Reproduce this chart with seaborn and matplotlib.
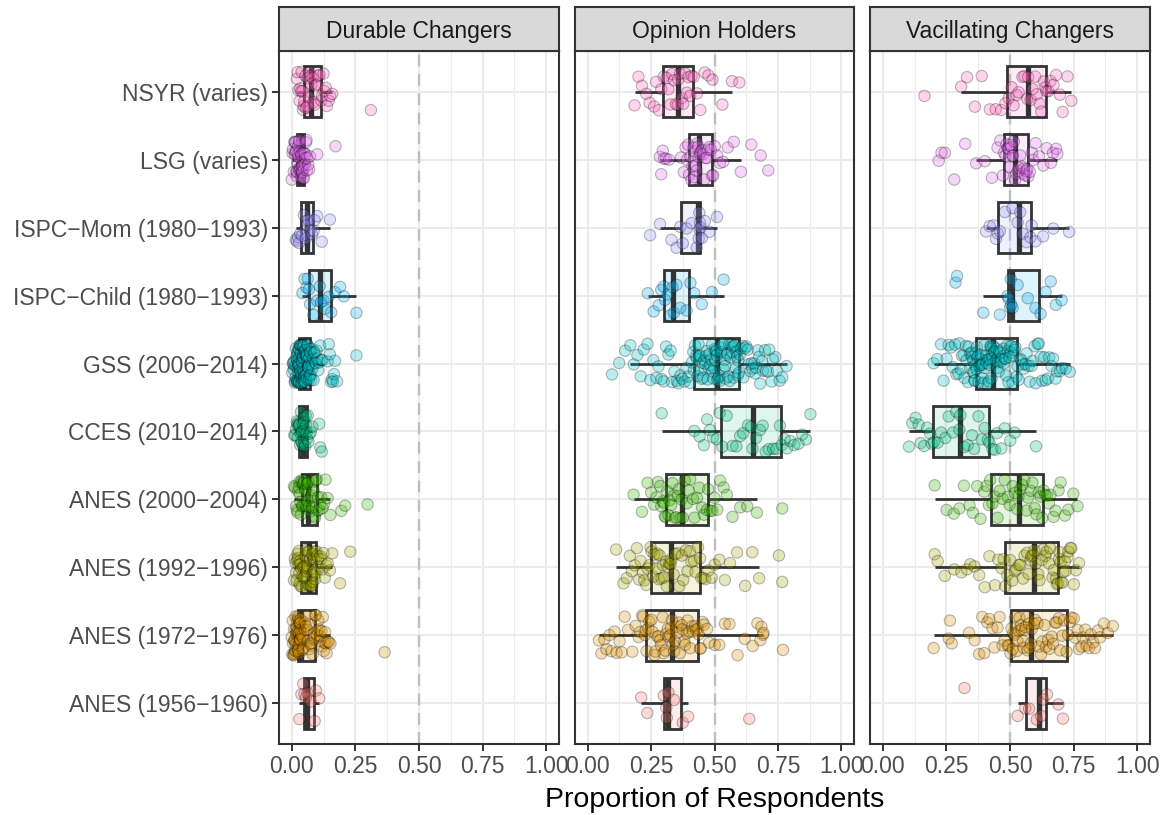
import numpy as np
import pandas as pd
import matplotlib
matplotlib.use("Agg")
import matplotlib.pyplot as plt
from matplotlib.colors import to_rgba
from matplotlib.ticker import MultipleLocator
import seaborn as sns

# Surveys, listed top to bottom
surveys = [
    "NSYR (varies)",
    "LSG (varies)",
    "ISPC\u2212Mom (1980\u22121993)",
    "ISPC\u2212Child (1980\u22121993)",
    "GSS (2006\u22122014)",
    "CCES (2010\u22122014)",
    "ANES (2000\u22122004)",
    "ANES (1992\u22121996)",
    "ANES (1972\u22121976)",
    "ANES (1956\u22121960)",
]
survey_colors = ["#FF62BC", "#E76BF3", "#9590FF", "#00B0F6", "#00BFC4",
                 "#00BF7D", "#39B600", "#A3A500", "#D89000", "#F8766D"]
facets = ["Durable Changers", "Opinion Holders", "Vacillating Changers"]
x_ticks = [0.0, 0.25, 0.5, 0.75, 1.0]
x_tick_labels = ["0.00", "0.25", "0.50", "0.75", "1.00"]

# ---- Durable changers: share of respondents per item ----
durable_nsyr = [0.020, 0.023, 0.026, 0.031, 0.033, 0.037, 0.039, 0.042, 0.044, 0.047, 0.049, 0.054,
                0.056, 0.061, 0.063, 0.067, 0.071, 0.074, 0.077, 0.082, 0.086, 0.090, 0.094, 0.101,
                0.104, 0.109, 0.116, 0.119, 0.125, 0.128, 0.134, 0.138, 0.145, 0.151, 0.159, 0.311]
durable_lsg = [0.000, 0.003, 0.005, 0.008, 0.010, 0.012, 0.013, 0.015, 0.016, 0.017, 0.018, 0.020,
               0.021, 0.022, 0.023, 0.024, 0.026, 0.027, 0.028, 0.029, 0.030, 0.031, 0.032, 0.034,
               0.035, 0.036, 0.037, 0.038, 0.039, 0.040, 0.041, 0.042, 0.043, 0.044, 0.045, 0.047,
               0.048, 0.050, 0.051, 0.053, 0.054, 0.056, 0.058, 0.060, 0.062, 0.065, 0.068, 0.072,
               0.100, 0.172]
durable_ispc_mom = [0.016, 0.020, 0.025, 0.029, 0.033, 0.040, 0.048, 0.055, 0.058, 0.060, 0.066,
                    0.072, 0.080, 0.086, 0.090, 0.100, 0.118, 0.150]
durable_ispc_child = [0.042, 0.050, 0.058, 0.063, 0.068, 0.072, 0.085, 0.100, 0.110, 0.116, 0.125,
                      0.130, 0.145, 0.155, 0.170, 0.190, 0.205, 0.254]
durable_gss = [0.002, 0.004, 0.006, 0.008, 0.009, 0.011, 0.012, 0.013, 0.015, 0.016, 0.017, 0.018,
               0.019, 0.020, 0.021, 0.021, 0.022, 0.023, 0.023, 0.024, 0.025, 0.025, 0.026, 0.026,
               0.027, 0.027, 0.028, 0.028, 0.029, 0.029, 0.030, 0.031, 0.031, 0.032, 0.033, 0.033,
               0.034, 0.035, 0.035, 0.036, 0.037, 0.037, 0.038, 0.039, 0.039, 0.040, 0.041, 0.041,
               0.042, 0.042, 0.043, 0.044, 0.044, 0.045, 0.045, 0.046, 0.046, 0.047, 0.047, 0.048,
               0.049, 0.050, 0.050, 0.051, 0.052, 0.053, 0.053, 0.054, 0.055, 0.056, 0.056, 0.057,
               0.058, 0.059, 0.060, 0.060, 0.061, 0.062, 0.063, 0.063, 0.064, 0.065, 0.066, 0.066,
               0.067, 0.068, 0.069, 0.069, 0.070, 0.071, 0.072, 0.074, 0.075, 0.077, 0.079, 0.080,
               0.082, 0.084, 0.086, 0.088, 0.090, 0.092, 0.095, 0.098, 0.101, 0.104, 0.108, 0.112,
               0.117, 0.121, 0.141, 0.146, 0.150, 0.155, 0.158, 0.162, 0.166, 0.170, 0.178, 0.254]
durable_cces = [0.010, 0.014, 0.017, 0.020, 0.022, 0.024, 0.026, 0.028, 0.029, 0.031, 0.033, 0.035,
                0.036, 0.038, 0.039, 0.040, 0.042, 0.043, 0.045, 0.047, 0.049, 0.051, 0.053, 0.055,
                0.057, 0.058, 0.060, 0.063, 0.066, 0.070, 0.075, 0.081, 0.108, 0.112, 0.118]
durable_anes2000 = [0.009, 0.013, 0.017, 0.020, 0.023, 0.026, 0.028, 0.030, 0.032, 0.034, 0.036,
                    0.038, 0.039, 0.041, 0.043, 0.045, 0.047, 0.049, 0.051, 0.053, 0.055, 0.057,
                    0.059, 0.061, 0.063, 0.066, 0.069, 0.072, 0.074, 0.077, 0.080, 0.083, 0.086,
                    0.089, 0.092, 0.095, 0.098, 0.101, 0.104, 0.108, 0.112, 0.116, 0.121, 0.127,
                    0.133, 0.141, 0.152, 0.195, 0.210, 0.298]
durable_anes1992 = [0.009, 0.012, 0.015, 0.017, 0.019, 0.022, 0.023, 0.025, 0.027, 0.028, 0.030,
                    0.031, 0.032, 0.034, 0.035, 0.037, 0.040, 0.042, 0.045, 0.047, 0.050, 0.052,
                    0.054, 0.056, 0.058, 0.060, 0.062, 0.064, 0.066, 0.068, 0.069, 0.071, 0.073,
                    0.074, 0.076, 0.078, 0.080, 0.081, 0.083, 0.085, 0.087, 0.089, 0.090, 0.092,
                    0.094, 0.097, 0.100, 0.104, 0.108, 0.112, 0.116, 0.120, 0.125, 0.130, 0.136,
                    0.142, 0.150, 0.159, 0.190, 0.230]
durable_anes1972 = [0.000, 0.002, 0.004, 0.005, 0.007, 0.008, 0.009, 0.010, 0.011, 0.012, 0.013,
                    0.014, 0.015, 0.016, 0.017, 0.018, 0.019, 0.020, 0.021, 0.022, 0.023, 0.024,
                    0.024, 0.025, 0.026, 0.026, 0.027, 0.028, 0.028, 0.029, 0.030, 0.030, 0.031,
                    0.032, 0.032, 0.033, 0.033, 0.034, 0.035, 0.035, 0.037, 0.039, 0.042, 0.044,
                    0.047, 0.051, 0.052, 0.056, 0.058, 0.061, 0.064, 0.068, 0.070, 0.073, 0.077,
                    0.079, 0.082, 0.086, 0.088, 0.090, 0.092, 0.095, 0.099, 0.101, 0.104, 0.108,
                    0.110, 0.113, 0.117, 0.119, 0.122, 0.126, 0.128, 0.131, 0.135, 0.137, 0.141,
                    0.146, 0.152, 0.365]
durable_anes1956 = [0.030, 0.038, 0.045, 0.050, 0.056, 0.062, 0.075, 0.090, 0.095, 0.108]

# ---- Opinion holders ----
opinion_nsyr = [0.185, 0.200, 0.214, 0.231, 0.244, 0.262, 0.270, 0.281, 0.290, 0.300, 0.311, 0.318,
                0.326, 0.333, 0.341, 0.348, 0.355, 0.357, 0.364, 0.371, 0.377, 0.384, 0.391, 0.397,
                0.404, 0.410, 0.418, 0.431, 0.444, 0.461, 0.476, 0.492, 0.531, 0.569, 0.598]
opinion_lsg = [0.285, 0.290, 0.296, 0.301, 0.309, 0.321, 0.368, 0.379, 0.386, 0.391, 0.396, 0.400,
               0.405, 0.409, 0.413, 0.417, 0.420, 0.423, 0.426, 0.429, 0.432, 0.435, 0.438, 0.442,
               0.446, 0.451, 0.455, 0.460, 0.464, 0.470, 0.475, 0.480, 0.486, 0.490, 0.495, 0.501,
               0.510, 0.521, 0.534, 0.552, 0.576, 0.604, 0.645, 0.682, 0.712]
opinion_ispc_mom = [0.246, 0.285, 0.330, 0.350, 0.365, 0.375, 0.390, 0.410, 0.430, 0.438, 0.440,
                    0.441, 0.443, 0.445, 0.450, 0.462, 0.480, 0.510]
opinion_ispc_child = [0.237, 0.260, 0.280, 0.290, 0.300, 0.305, 0.315, 0.325, 0.335, 0.340, 0.350,
                      0.365, 0.390, 0.405, 0.420, 0.450, 0.490, 0.536]
opinion_gss = [0.096, 0.124, 0.148, 0.168, 0.182, 0.196, 0.209, 0.221, 0.236, 0.247, 0.259, 0.271,
               0.279, 0.291, 0.300, 0.309, 0.318, 0.327, 0.333, 0.342, 0.351, 0.357, 0.366, 0.373,
               0.382, 0.389, 0.397, 0.404, 0.411, 0.416, 0.419, 0.423, 0.427, 0.430, 0.433, 0.437,
               0.440, 0.443, 0.447, 0.450, 0.452, 0.456, 0.460, 0.463, 0.466, 0.469, 0.473, 0.477,
               0.480, 0.483, 0.486, 0.490, 0.492, 0.496, 0.499, 0.501, 0.504, 0.506, 0.508, 0.509,
               0.511, 0.515, 0.518, 0.520, 0.524, 0.527, 0.531, 0.533, 0.536, 0.540, 0.542, 0.545,
               0.549, 0.551, 0.554, 0.558, 0.560, 0.563, 0.567, 0.569, 0.572, 0.576, 0.578, 0.581,
               0.585, 0.587, 0.589, 0.592, 0.594, 0.596, 0.600, 0.604, 0.611, 0.614, 0.621, 0.625,
               0.631, 0.634, 0.641, 0.646, 0.649, 0.656, 0.661, 0.664, 0.671, 0.676, 0.680, 0.687,
               0.691, 0.699, 0.703, 0.711, 0.716, 0.725, 0.730, 0.740, 0.746, 0.757, 0.767, 0.784]
opinion_cces = [0.292, 0.420, 0.441, 0.458, 0.471, 0.482, 0.494, 0.509, 0.520, 0.531, 0.548, 0.571,
                0.586, 0.601, 0.613, 0.632, 0.644, 0.650, 0.664, 0.679, 0.690, 0.702, 0.714, 0.731,
                0.744, 0.758, 0.765, 0.776, 0.786, 0.799, 0.814, 0.831, 0.846, 0.861, 0.878]
opinion_anes2000 = [0.181, 0.214, 0.236, 0.250, 0.262, 0.271, 0.277, 0.286, 0.290, 0.296, 0.300,
                    0.304, 0.307, 0.313, 0.318, 0.322, 0.329, 0.334, 0.340, 0.344, 0.350, 0.356,
                    0.360, 0.366, 0.370, 0.375, 0.383, 0.391, 0.398, 0.404, 0.415, 0.421, 0.431,
                    0.440, 0.451, 0.459, 0.470, 0.475, 0.483, 0.491, 0.500, 0.511, 0.522, 0.536,
                    0.549, 0.571, 0.601, 0.629, 0.667, 0.767]
opinion_anes1992 = [0.112, 0.141, 0.154, 0.166, 0.174, 0.186, 0.194, 0.203, 0.209, 0.218, 0.223,
                    0.231, 0.236, 0.243, 0.248, 0.252, 0.259, 0.263, 0.271, 0.275, 0.281, 0.284,
                    0.291, 0.296, 0.301, 0.309, 0.312, 0.319, 0.322, 0.327, 0.330, 0.339, 0.345,
                    0.355, 0.361, 0.371, 0.377, 0.387, 0.393, 0.403, 0.409, 0.419, 0.425, 0.435,
                    0.443, 0.448, 0.456, 0.464, 0.476, 0.489, 0.501, 0.519, 0.541, 0.561, 0.589,
                    0.621, 0.649, 0.676, 0.754, 0.767]
opinion_anes1972 = [0.044, 0.054, 0.066, 0.074, 0.086, 0.094, 0.106, 0.114, 0.126, 0.134, 0.146,
                    0.159, 0.176, 0.189, 0.201, 0.207, 0.215, 0.219, 0.226, 0.229, 0.232, 0.239,
                    0.243, 0.251, 0.255, 0.263, 0.267, 0.275, 0.279, 0.286, 0.289, 0.296, 0.299,
                    0.306, 0.309, 0.316, 0.319, 0.326, 0.328, 0.332, 0.335, 0.341, 0.344, 0.351,
                    0.354, 0.361, 0.364, 0.371, 0.374, 0.381, 0.384, 0.391, 0.394, 0.401, 0.404,
                    0.411, 0.415, 0.423, 0.427, 0.434, 0.438, 0.443, 0.446, 0.453, 0.459, 0.471,
                    0.479, 0.501, 0.519, 0.541, 0.559, 0.591, 0.619, 0.651, 0.669, 0.681, 0.685,
                    0.691, 0.693, 0.770]
opinion_anes1956 = [0.211, 0.235, 0.300, 0.310, 0.312, 0.318, 0.340, 0.375, 0.396, 0.637]

# ---- Vacillating changers ----
vac_nsyr = [0.164, 0.308, 0.331, 0.362, 0.389, 0.421, 0.444, 0.466, 0.482, 0.495, 0.506, 0.514,
            0.526, 0.534, 0.549, 0.557, 0.568, 0.571, 0.581, 0.589, 0.599, 0.605, 0.616, 0.623,
            0.633, 0.639, 0.643, 0.651, 0.659, 0.671, 0.681, 0.696, 0.707, 0.726, 0.741]
vac_lsg = [0.220, 0.231, 0.244, 0.281, 0.324, 0.367, 0.401, 0.429, 0.451, 0.462, 0.472, 0.477,
           0.482, 0.486, 0.491, 0.494, 0.498, 0.502, 0.506, 0.509, 0.512, 0.515, 0.520, 0.525,
           0.531, 0.535, 0.540, 0.546, 0.550, 0.555, 0.560, 0.564, 0.568, 0.572, 0.578, 0.586,
           0.591, 0.601, 0.614, 0.631, 0.644, 0.661, 0.669, 0.681, 0.686]
vac_ispc_mom = [0.406, 0.420, 0.435, 0.445, 0.452, 0.460, 0.480, 0.510, 0.530, 0.540, 0.550, 0.565,
                0.580, 0.585, 0.600, 0.630, 0.670, 0.732]
vac_ispc_child = [0.286, 0.292, 0.395, 0.460, 0.490, 0.495, 0.500, 0.503, 0.505, 0.510, 0.530,
                  0.570, 0.600, 0.620, 0.640, 0.660, 0.680, 0.703]
vac_gss = [0.200, 0.214, 0.229, 0.239, 0.251, 0.259, 0.269, 0.275, 0.284, 0.289, 0.297, 0.301,
           0.308, 0.311, 0.318, 0.321, 0.327, 0.329, 0.335, 0.337, 0.343, 0.344, 0.349, 0.350,
           0.355, 0.356, 0.359, 0.360, 0.362, 0.363, 0.365, 0.368, 0.370, 0.372, 0.375, 0.377,
           0.380, 0.383, 0.385, 0.386, 0.390, 0.392, 0.394, 0.397, 0.400, 0.401, 0.405, 0.407,
           0.409, 0.412, 0.414, 0.417, 0.419, 0.420, 0.423, 0.425, 0.427, 0.428, 0.430, 0.432,
           0.434, 0.438, 0.440, 0.444, 0.447, 0.449, 0.453, 0.456, 0.458, 0.462, 0.465, 0.467,
           0.471, 0.474, 0.476, 0.480, 0.483, 0.485, 0.489, 0.492, 0.494, 0.498, 0.501, 0.503,
           0.507, 0.510, 0.513, 0.518, 0.521, 0.526, 0.530, 0.534, 0.541, 0.544, 0.551, 0.554,
           0.561, 0.565, 0.573, 0.577, 0.585, 0.589, 0.597, 0.601, 0.609, 0.613, 0.621, 0.626,
           0.635, 0.640, 0.649, 0.654, 0.663, 0.669, 0.679, 0.685, 0.696, 0.704, 0.719, 0.735]
vac_cces = [0.103, 0.116, 0.129, 0.141, 0.149, 0.163, 0.174, 0.186, 0.193, 0.201, 0.216, 0.229,
            0.246, 0.259, 0.276, 0.289, 0.301, 0.305, 0.321, 0.334, 0.351, 0.359, 0.376, 0.389,
            0.401, 0.413, 0.419, 0.431, 0.441, 0.449, 0.466, 0.479, 0.501, 0.519, 0.602]
vac_anes2000 = [0.204, 0.251, 0.279, 0.301, 0.319, 0.341, 0.354, 0.371, 0.384, 0.399, 0.408, 0.417,
                0.422, 0.431, 0.439, 0.451, 0.459, 0.471, 0.479, 0.491, 0.499, 0.511, 0.519, 0.528,
                0.534, 0.540, 0.549, 0.556, 0.565, 0.571, 0.581, 0.588, 0.597, 0.604, 0.613, 0.620,
                0.627, 0.632, 0.639, 0.645, 0.653, 0.659, 0.671, 0.679, 0.691, 0.699, 0.716, 0.729,
                0.749, 0.765]
vac_anes1992 = [0.204, 0.216, 0.244, 0.281, 0.309, 0.331, 0.344, 0.361, 0.379, 0.401, 0.419, 0.441,
                0.454, 0.466, 0.475, 0.481, 0.489, 0.501, 0.509, 0.519, 0.525, 0.535, 0.541, 0.551,
                0.557, 0.567, 0.573, 0.581, 0.584, 0.590, 0.596, 0.601, 0.611, 0.616, 0.625, 0.630,
                0.639, 0.644, 0.653, 0.658, 0.667, 0.672, 0.681, 0.684, 0.689, 0.693, 0.694, 0.699,
                0.701, 0.707, 0.709, 0.716, 0.719, 0.726, 0.729, 0.737, 0.741, 0.751, 0.759, 0.771]
vac_anes1972 = [0.200, 0.259, 0.264, 0.271, 0.339, 0.361, 0.379, 0.391, 0.399, 0.411, 0.419, 0.431,
                0.439, 0.451, 0.459, 0.471, 0.479, 0.491, 0.496, 0.502, 0.506, 0.511, 0.513, 0.519,
                0.521, 0.527, 0.529, 0.535, 0.537, 0.543, 0.545, 0.551, 0.553, 0.559, 0.561, 0.567,
                0.569, 0.575, 0.577, 0.582, 0.586, 0.594, 0.599, 0.608, 0.613, 0.622, 0.627, 0.636,
                0.641, 0.650, 0.655, 0.664, 0.669, 0.678, 0.683, 0.692, 0.697, 0.706, 0.712, 0.722,
                0.728, 0.736, 0.741, 0.751, 0.756, 0.766, 0.771, 0.781, 0.786, 0.796, 0.801, 0.811,
                0.817, 0.827, 0.834, 0.846, 0.854, 0.869, 0.884, 0.904]
vac_anes1956 = [0.321, 0.530, 0.560, 0.575, 0.605, 0.622, 0.630, 0.645, 0.690, 0.708]

durable = [durable_nsyr, durable_lsg, durable_ispc_mom, durable_ispc_child, durable_gss,
           durable_cces, durable_anes2000, durable_anes1992, durable_anes1972, durable_anes1956]
opinion = [opinion_nsyr, opinion_lsg, opinion_ispc_mom, opinion_ispc_child, opinion_gss,
           opinion_cces, opinion_anes2000, opinion_anes1992, opinion_anes1972, opinion_anes1956]
vacillating = [vac_nsyr, vac_lsg, vac_ispc_mom, vac_ispc_child, vac_gss,
               vac_cces, vac_anes2000, vac_anes1992, vac_anes1972, vac_anes1956]

frames = []
for facet, groups in zip(facets, [durable, opinion, vacillating]):
    for survey, vals in zip(surveys, groups):
        frames.append(pd.DataFrame({"facet": facet, "survey": survey, "proportion": vals}))
df = pd.concat(frames, ignore_index=True)
palette = dict(zip(surveys, survey_colors))

# ---- Styling ----
sns.set_theme(style="white")
plt.rcParams["font.family"] = ["Liberation Sans", "DejaVu Sans"]

W, H = 1173, 815
fig = plt.figure(figsize=(W / 100, H / 100), dpi=100)

panel_x = [(279, 559), (575, 854), (870, 1150)]
panel_top, panel_bottom = 51, 744
strip_top = 7
frame_color = "#333333"
grid_color = "#EBEBEB"

np.random.seed(11)
for i, (facet, (x0, x1)) in enumerate(zip(facets, panel_x)):
    ax = fig.add_axes([x0 / W, 1 - panel_bottom / H, (x1 - x0) / W,
                       (panel_bottom - panel_top) / H])
    sub = df[df["facet"] == facet]

    ax.axvline(0.5, color="#BEBEBE", lw=1.7, ls=(0, (5, 3.2)), zorder=0.8)

    sns.stripplot(data=sub, x="proportion", y="survey", hue="survey",
                  order=surveys, hue_order=surveys, palette=palette,
                  jitter=0.3, size=8.2, alpha=0.27, edgecolor="black",
                  linewidth=0.8, legend=False, ax=ax)
    sns.boxplot(data=sub, x="proportion", y="survey", hue="survey",
                order=surveys, hue_order=surveys, palette=palette,
                saturation=1, dodge=False, width=0.75, showfliers=False,
                showcaps=False, linecolor=frame_color, linewidth=2.0,
                medianprops={"linewidth": 3.8, "color": frame_color,
                             "solid_capstyle": "butt"},
                legend=False, ax=ax)
    for patch in ax.patches:
        patch.set_facecolor(to_rgba(patch.get_facecolor(), 0.13))

    ax.set_xlim(-0.05, 1.05)
    ax.set_ylim(len(surveys) - 1 + 0.6, -0.6)
    ax.set_xticks(x_ticks)
    ax.set_xticklabels(x_tick_labels)
    ax.xaxis.set_minor_locator(MultipleLocator(0.125))
    ax.set_axisbelow(True)
    ax.grid(True, which="major", color=grid_color, lw=1.5)
    ax.xaxis.grid(True, which="minor", color=grid_color, lw=0.8)
    ax.set_xlabel("")
    ax.set_ylabel("")
    ax.tick_params(axis="both", which="major", direction="out", length=5, width=1.4,
                   color=frame_color, labelsize=16.5, labelcolor="#4D4D4D", pad=3)
    ax.tick_params(axis="x", which="minor", length=0)
    ax.tick_params(axis="x", bottom=True)
    if i == 0:
        ax.tick_params(axis="y", left=True)
    else:
        ax.tick_params(axis="y", left=False, labelleft=False)
    for sp in ax.spines.values():
        sp.set_visible(True)
        sp.set_color(frame_color)
        sp.set_linewidth(1.5)

    # facet strip
    sax = fig.add_axes([x0 / W, 1 - panel_top / H, (x1 - x0) / W,
                        (panel_top - strip_top) / H])
    sax.set_facecolor("#D9D9D9")
    sax.set_xticks([])
    sax.set_yticks([])
    for sp in sax.spines.values():
        sp.set_visible(True)
        sp.set_color(frame_color)
        sp.set_linewidth(1.5)
    sax.text(0.5, 0.5, facet, ha="center", va="center_baseline",
             fontsize=16.5, color="#1A1A1A", transform=sax.transAxes)

fig.text((panel_x[0][0] + panel_x[-1][1]) / 2 / W, 1 - 800 / H,
         "Proportion of Respondents", ha="center", va="center",
         fontsize=20.5, color="black")

fig.savefig("out.png", dpi=100)
